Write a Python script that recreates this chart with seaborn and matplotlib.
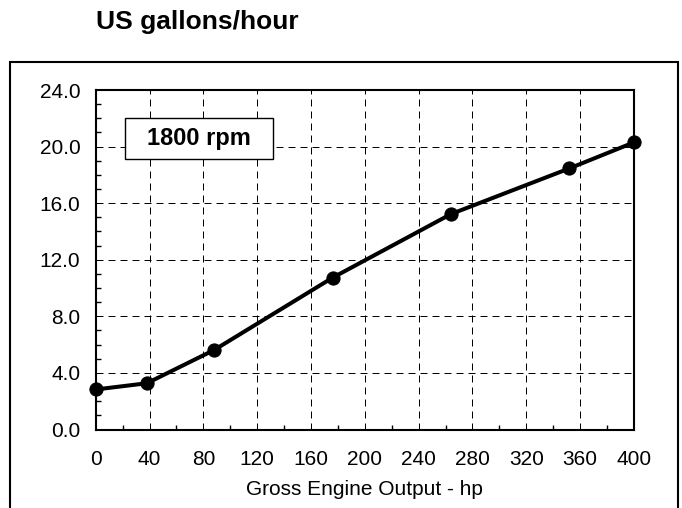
import seaborn as sns
import matplotlib.pyplot as plt
import pandas as pd
from matplotlib.patches import Rectangle
from matplotlib.ticker import MultipleLocator, FormatStrFormatter

# valores
potencia_hp = [0, 38, 88, 176, 264, 352, 400]
consumo_gph = [2.83, 3.27, 5.62, 10.73, 15.23, 18.46, 20.3]

titulo = 'US gallons/hour'
rotulo_x = 'Gross Engine Output - hp'
rotulo_rpm = '1800 rpm'

sns.set_style('ticks')
plt.rcParams['font.family'] = ['Liberation Sans', 'DejaVu Sans']
plt.rcParams['text.color'] = 'black'
plt.rcParams['axes.labelcolor'] = 'black'
plt.rcParams['xtick.color'] = 'black'
plt.rcParams['ytick.color'] = 'black'

df = pd.DataFrame({'hp': potencia_hp, 'gph': consumo_gph})

fig = plt.figure(figsize=(6.82, 5.08), dpi=100)
ax = fig.add_axes([0.1403, 0.1545, 0.7893, 0.6683])

sns.lineplot(data=df, x='hp', y='gph', ax=ax, color='black', linewidth=2.9,
             marker='o', markersize=9.5, markeredgecolor='black', zorder=3)
for linha in ax.lines:
    linha.set_clip_on(False)

ax.set_xlim(0, 400)
ax.set_ylim(0, 24)
ax.xaxis.set_major_locator(MultipleLocator(40))
ax.xaxis.set_minor_locator(MultipleLocator(20))
ax.yaxis.set_major_locator(MultipleLocator(4))
ax.yaxis.set_minor_locator(MultipleLocator(1))
ax.yaxis.set_major_formatter(FormatStrFormatter('%.1f'))

ax.grid(True, which='major', color='black', linestyle=(0, (7, 5)), linewidth=0.72)
ax.set_axisbelow(True)

for s in ax.spines.values():
    s.set_visible(True)
    s.set_linewidth(1.5)
    s.set_color('black')

ax.tick_params(which='both', direction='in', color='black', labelcolor='black', width=1)
ax.tick_params(which='major', length=0)
ax.tick_params(which='minor', length=3.5)
ax.tick_params(axis='x', which='major', labelsize=15, pad=15)
ax.tick_params(axis='y', which='major', labelsize=15, pad=11)

ax.set_xlabel(rotulo_x, fontsize=15, labelpad=8, color='black')
ax.set_ylabel('')

# caixa "1800 rpm"
ax.add_patch(Rectangle((0.0544, 0.7968), 0.275, 0.1207, transform=ax.transAxes,
                       facecolor='white', edgecolor='black', linewidth=1, zorder=4))
ax.text(0.1919, 0.857, rotulo_rpm, transform=ax.transAxes, ha='center', va='center',
        fontsize=17, fontweight='bold', color='black', zorder=5)

# titulo e moldura externa
fig.text(0.1408, 0.942, titulo, fontsize=19, fontweight='bold', color='black',
         ha='left', va='baseline')
fig.add_artist(Rectangle((0.0147, -0.05), 0.9794, 0.928, transform=fig.transFigure,
                         facecolor='none', edgecolor='black', linewidth=1.5, clip_on=False))

plt.savefig('out.png', dpi=100)
